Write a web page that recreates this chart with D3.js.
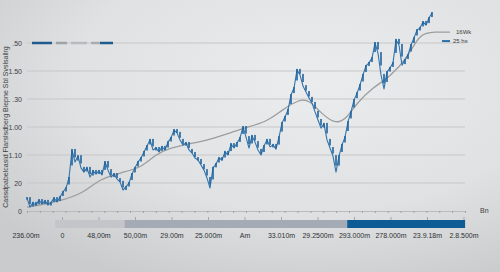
<!DOCTYPE html>
<html>
<head>
<meta charset="utf-8">
<script src="https://cdn.jsdelivr.net/npm/d3@7"></script>
<style>
  html, body { margin: 0; padding: 0; }
  body { width: 500px; height: 272px; overflow: hidden; }
  text { font-family: "Liberation Sans Narrow", "Liberation Sans", Arial, sans-serif; }
</style>
</head>
<body>
<svg id="chart" width="500" height="272"></svg>
<script>
// price series, one value every step
var price = [0.46,0.14,0.29,0.21,0.39,0.25,0.36,0.21,0.29,0.46,0.32,0.50,0.68,0.82,1.18,2.18,
  1.75,1.96,1.54,1.39,1.54,1.21,1.43,1.32,1.43,1.29,1.75,1.46,1.21,1.32,1.14,1.04,0.75,0.86,
  1.00,1.32,1.54,1.75,1.89,2.11,2.32,2.54,2.18,2.25,2.11,2.29,2.18,2.46,2.61,2.89,2.79,2.54,
  2.36,2.43,2.18,2.07,1.89,1.82,1.64,1.46,1.18,0.82,1.54,1.68,1.89,1.82,2.11,2.00,2.39,2.25,
  2.43,2.61,3.00,2.64,2.25,2.68,2.46,2.18,2.00,2.32,2.54,2.29,2.36,2.21,2.64,3.14,3.36,3.61,
  4.14,4.39,5.04,4.86,4.46,4.25,4.04,3.86,3.54,3.25,2.96,3.11,2.54,2.25,1.96,1.39,1.96,2.36,
  2.64,3.18,3.54,3.96,4.21,4.50,4.86,5.18,5.29,5.46,6.00,5.64,4.86,4.36,4.96,5.11,5.29,6.11,
  5.93,5.21,5.39,5.57,5.93,6.18,6.46,6.54,6.75,6.64,6.89,7.07];

// slow average line
var avgDay = [0,6,11,19,24,32,38,43,48,52,61,72,80,85,91,94,98,103,107,110,115,121,127,131,136,141];
var avgVal = [0.14,0.25,0.36,0.64,1.14,1.39,1.54,2.04,2.25,2.36,2.54,2.96,3.18,3.61,4.00,3.96,
  3.50,3.07,3.36,3.86,4.39,4.79,5.50,6.36,6.39,6.39];

var yTicks = ["0","20","1.10","1.00",".30","1.50",".50"];
var xLabels = ["236.00m","0","48,00m","50,00m","29.00m","25.000m","Am","33.010m","29.2500m",
  "293.000m","278.000m","23.9.18m","2.8.500m"];

// range bar pieces, in label units
var barStart = [0.8, 2.7, 8.8];
var barEnd = [2.7, 8.8, 12.03];
var barColor = ["#c3c5c8", "#a5abb4", "#0e5c96"];

var legendColor = ["#1f5b8c", "#9ea3a8", "#b8bbbe", "#a9adb2", "#1f5b8c"];
var legendLen = [20, 11, 16, 9, 13];

var svg = d3.select("#chart");

// background
var defs = svg.append("defs");
var bg = defs.append("radialGradient").attr("id", "bg")
  .attr("cx", "62%").attr("cy", "30%").attr("r", "80%");
bg.append("stop").attr("offset", "0%").attr("stop-color", "#ebeced");
bg.append("stop").attr("offset", "60%").attr("stop-color", "#e0e1e2");
bg.append("stop").attr("offset", "100%").attr("stop-color", "#c9cbcc");
svg.append("rect").attr("width", 500).attr("height", 272).attr("fill", "url(#bg)");

var plotLeft = 27, plotRight = 465, plotTop = 43, plotBottom = 211;

var x = d3.scaleLinear().domain([0, price.length - 1]).range([plotLeft, 432]);
var y = d3.scaleLinear().domain([0, 6]).range([plotBottom, plotTop]);

// grid
svg.append("g").selectAll("line").data(d3.range(1, 7)).enter().append("line")
  .attr("x1", plotLeft).attr("x2", plotRight)
  .attr("y1", function(d) { return y(d); }).attr("y2", function(d) { return y(d); })
  .attr("stroke", "#c5c7c9").attr("stroke-width", 1);

// y labels
svg.append("g").selectAll("text").data(yTicks).enter().append("text")
  .attr("x", 22).attr("y", function(d, i) { return y(i) + 2.5; })
  .attr("text-anchor", "end").attr("font-size", 7).attr("fill", "#3c3f42")
  .text(function(d) { return d; });

svg.append("text")
  .attr("transform", "translate(8," + (plotBottom + plotTop) / 2 + ") rotate(-90)")
  .attr("text-anchor", "middle").attr("font-size", 7).attr("fill", "#3c3f42")
  .text("Cassdpabelcasid  Flarslsdberg Biepne Sbl Svslsallrg");

// baseline with small ticks
var xAxis = d3.axisBottom(d3.scaleLinear().domain([0, 34]).range([plotLeft, plotRight]))
  .ticks(34).tickSize(2).tickFormat("");
var gx = svg.append("g").attr("transform", "translate(0," + plotBottom + ")").call(xAxis);
gx.select(".domain").attr("stroke", "#b9bbbd");
gx.selectAll(".tick line").attr("stroke", "#9fa2a5");

svg.append("text").attr("x", 480).attr("y", plotBottom + 2).attr("font-size", 7)
  .attr("fill", "#3c3f42").text("Bn");

// slow line
var avgLine = d3.line()
  .x(function(d, i) { return x(avgDay[i]); })
  .y(function(d) { return y(d); })
  .curve(d3.curveBasis);
svg.append("path").datum(avgVal).attr("d", avgLine)
  .attr("fill", "none").attr("stroke", "#9b9d9f").attr("stroke-width", 1.3);

// price line + little candles
var priceLine = d3.line()
  .x(function(d, i) { return x(i); })
  .y(function(d) { return y(d); });
svg.append("path").datum(price).attr("d", priceLine)
  .attr("fill", "none").attr("stroke", "#2f74ad").attr("stroke-width", 1.1)
  .attr("stroke-linejoin", "round");

svg.append("g").selectAll("rect").data(price).enter().append("rect")
  .attr("x", function(d, i) { return x(i) - 0.8; })
  .attr("width", 1.6)
  .attr("y", function(d, i) {
    var p = i > 0 ? price[i - 1] : d;
    return y(Math.max(d, p)) - 1;
  })
  .attr("height", function(d, i) {
    var p = i > 0 ? price[i - 1] : d;
    return Math.abs(y(d) - y(p)) * 0.5 + 2.5;
  })
  .attr("fill", "#21649e");

// right legend
var lastAvg = y(avgVal[avgVal.length - 1]);
svg.append("text").attr("x", 456).attr("y", lastAvg + 2).attr("font-size", 6)
  .attr("fill", "#3c3f42").text("16Wk");
svg.append("line").attr("x1", 442).attr("x2", 450)
  .attr("y1", lastAvg + 9).attr("y2", lastAvg + 9)
  .attr("stroke", "#2a6fa9").attr("stroke-width", 2);
svg.append("text").attr("x", 453).attr("y", lastAvg + 11).attr("font-size", 6)
  .attr("fill", "#3c3f42").text("25 hs");

// top-left legend dashes
var lx = 32;
var legendPos = legendLen.map(function(l, i) {
  var s = lx; lx += l + (i === 3 ? 0 : 4); return s;
});
svg.append("g").selectAll("line").data(legendLen).enter().append("line")
  .attr("x1", function(d, i) { return legendPos[i]; })
  .attr("x2", function(d, i) { return legendPos[i] + d; })
  .attr("y1", plotTop).attr("y2", plotTop)
  .attr("stroke", function(d, i) { return legendColor[i]; })
  .attr("stroke-width", 2.5);

// range bar and labels
var bx = d3.scaleLinear().domain([0, 12]).range([26, 464]);
svg.append("g").selectAll("rect").data(barStart).enter().append("rect")
  .attr("x", function(d) { return bx(d); })
  .attr("width", function(d, i) { return bx(barEnd[i]) - bx(d); })
  .attr("y", 220).attr("height", 8)
  .attr("fill", function(d, i) { return barColor[i]; });

svg.append("g").selectAll("line").data(xLabels.slice(1)).enter().append("line")
  .attr("x1", function(d, i) { return bx(i + 1); }).attr("x2", function(d, i) { return bx(i + 1); })
  .attr("y1", 217).attr("y2", 220)
  .attr("stroke", "#a5a8ab");

svg.append("g").selectAll("text").data(xLabels).enter().append("text")
  .attr("x", function(d, i) { return bx(i); }).attr("y", 238)
  .attr("text-anchor", "middle").attr("font-size", 7).attr("fill", "#2e3134")
  .text(function(d) { return d; });
</script>
</body>
</html>
